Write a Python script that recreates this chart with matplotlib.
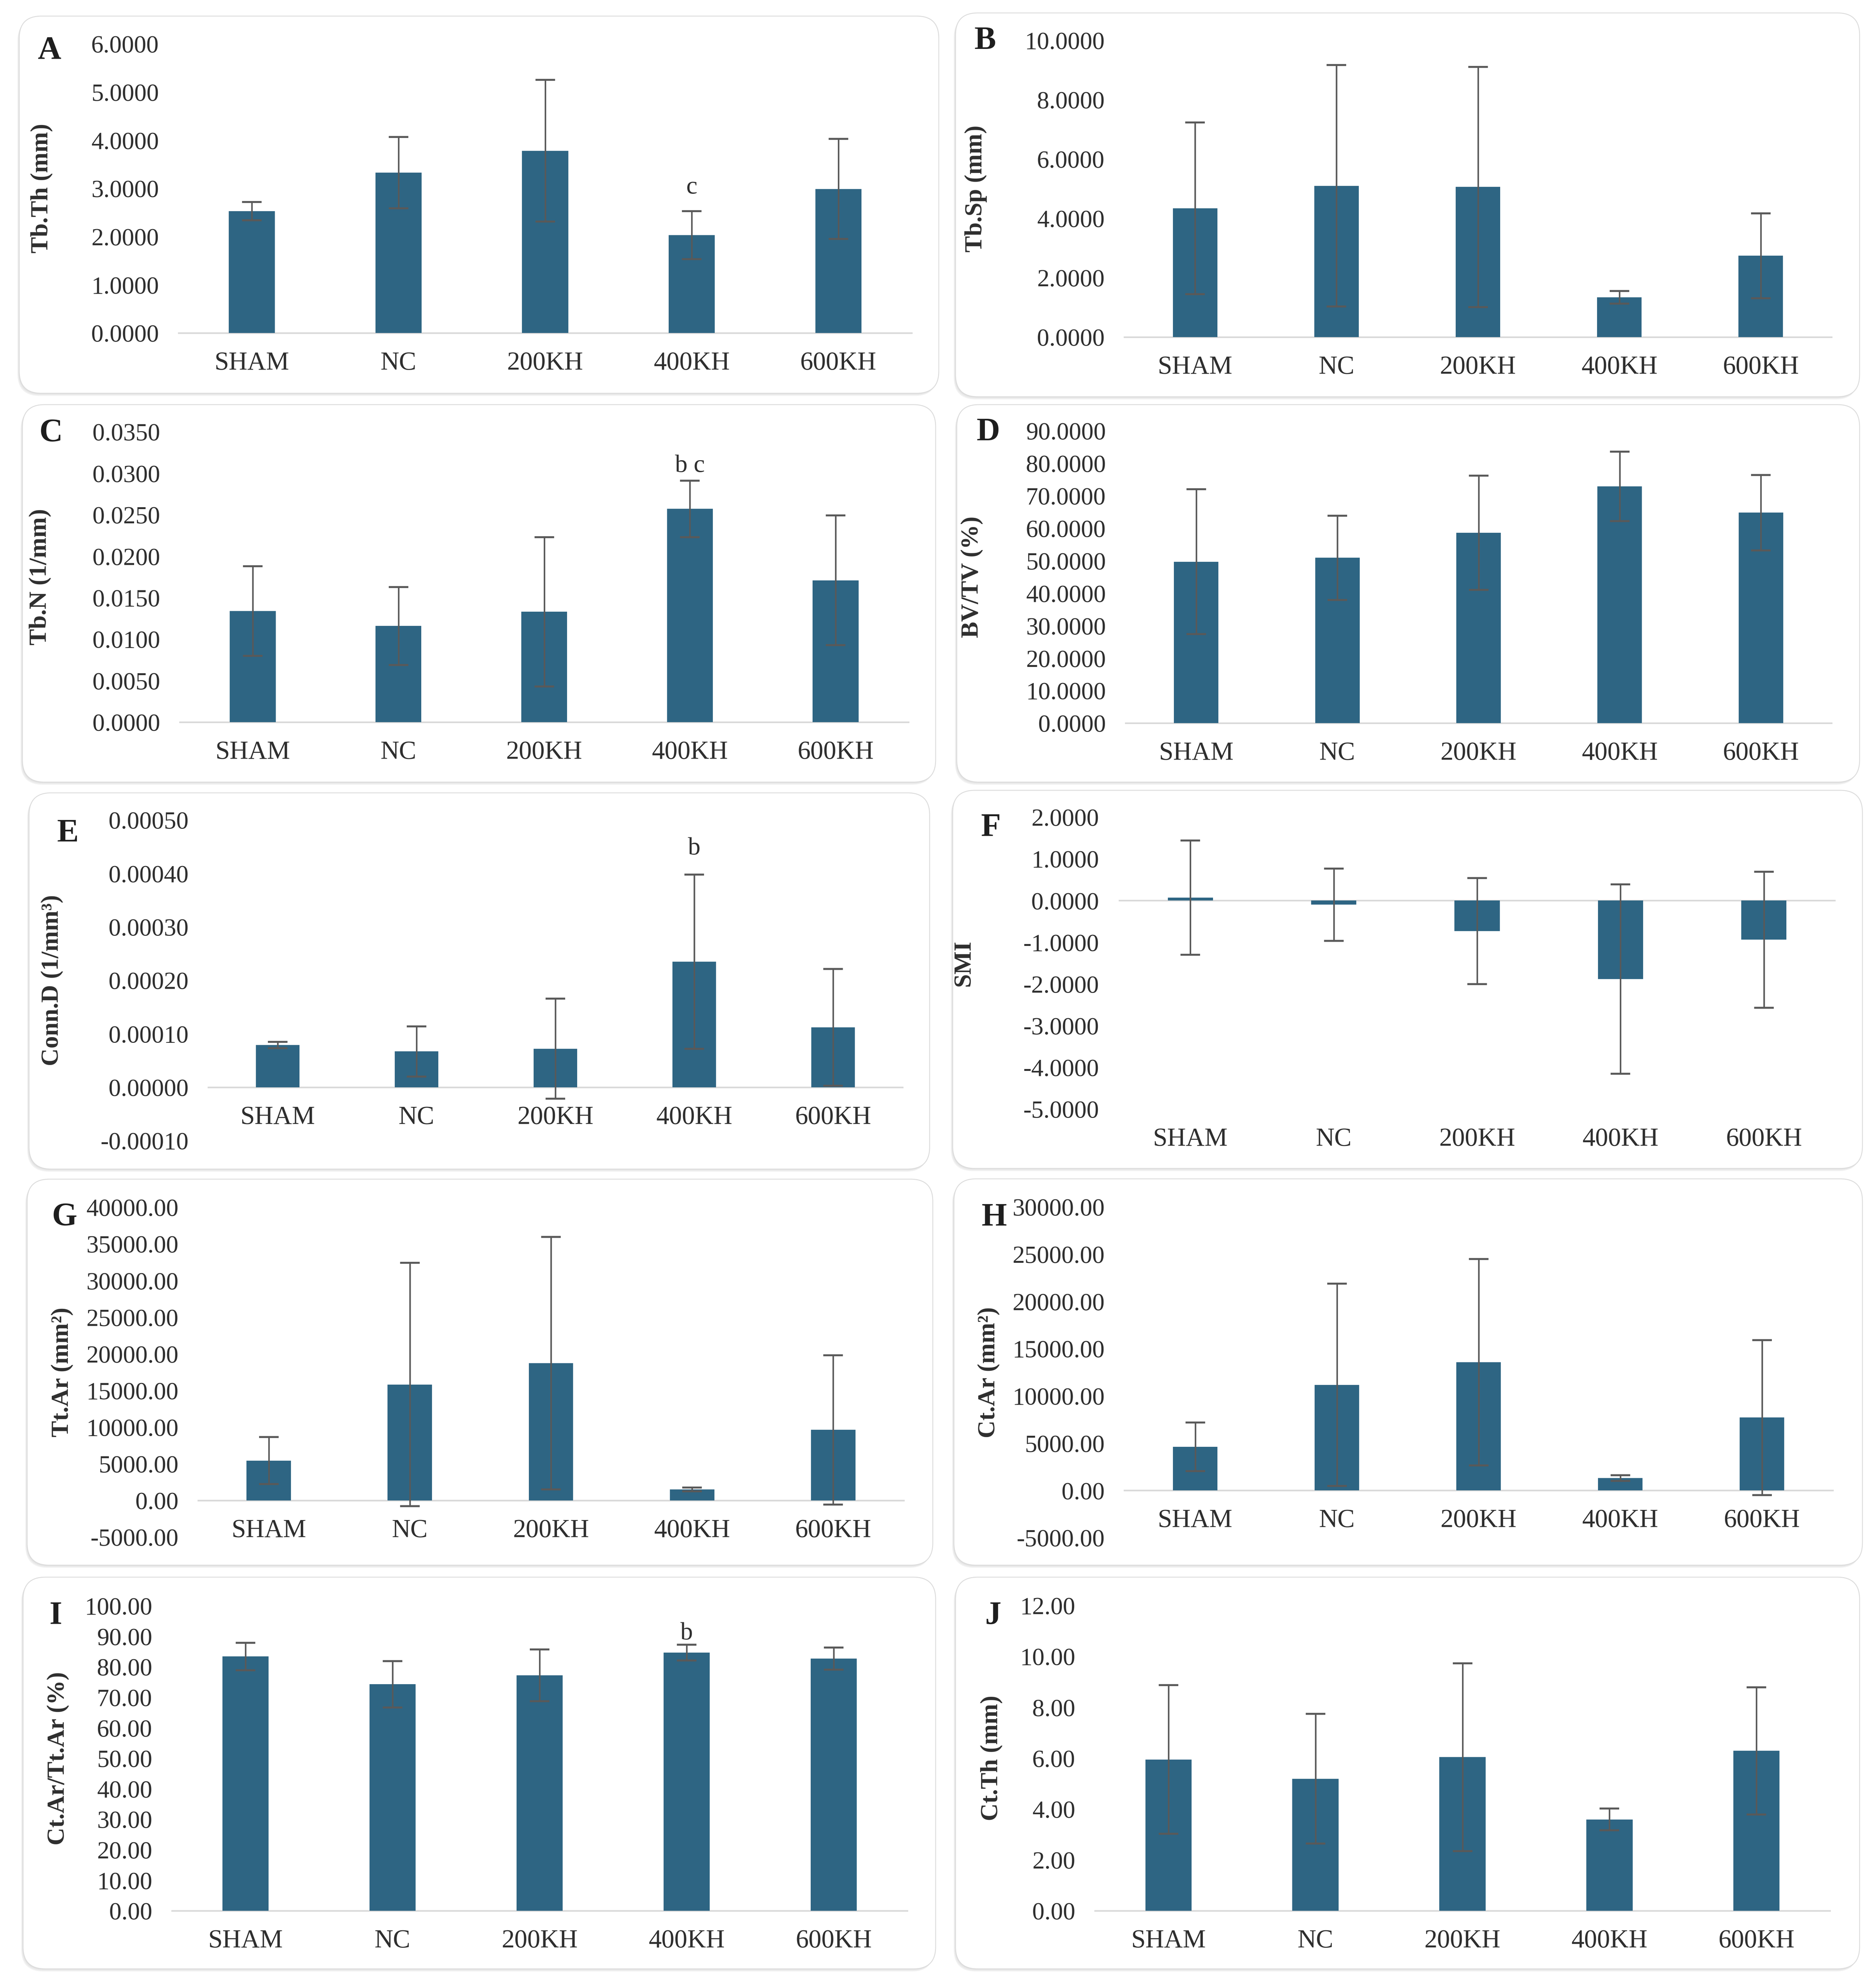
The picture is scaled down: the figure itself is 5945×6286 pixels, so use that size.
import matplotlib
matplotlib.use('Agg')
import matplotlib.pyplot as plt
from matplotlib.patches import FancyBboxPatch
from matplotlib.ticker import FormatStrFormatter, MultipleLocator

plt.rcParams['font.family'] = ['Liberation Serif', 'DejaVu Serif']

# 数据
groups = ['SHAM', 'NC', '200KH', '400KH', '600KH']

tb_th_mean = [2.53, 3.33, 3.78, 2.03, 2.99]
tb_th_sd = [0.19, 0.74, 1.47, 0.50, 1.04]

tb_sp_mean = [4.34, 5.10, 5.06, 1.34, 2.74]
tb_sp_sd = [2.89, 4.07, 4.05, 0.21, 1.43]

tb_n_mean = [0.0134, 0.0116, 0.0133, 0.0257, 0.0171]
tb_n_sd = [0.0054, 0.0047, 0.0090, 0.0034, 0.0078]

bv_tv_mean = [49.7, 50.9, 58.6, 72.9, 64.8]
bv_tv_sd = [22.3, 13.0, 17.6, 10.7, 11.6]

conn_d_mean = [0.000079, 0.000067, 0.000072, 0.000235, 0.000112]
conn_d_sd = [0.000006, 0.000047, 0.0000935, 0.000163, 0.000109]

smi_mean = [0.07, -0.10, -0.73, -1.88, -0.94]
smi_sd = [1.37, 0.87, 1.27, 2.27, 1.63]

tt_ar_mean = [5440, 15800, 18730, 1500, 9620]
tt_ar_sd = [3200, 16600, 17240, 250, 10170]

ct_ar_mean = [4630, 11170, 13580, 1300, 7710]
ct_ar_sd = [2570, 10700, 10920, 300, 8210]

ct_ratio_mean = [83.4, 74.3, 77.2, 84.7, 82.7]
ct_ratio_sd = [4.5, 7.6, 8.5, 2.6, 3.6]

ct_th_mean = [5.95, 5.19, 6.04, 3.59, 6.29]
ct_th_sd = [2.92, 2.55, 3.69, 0.43, 2.50]

sig_a = {'400KH': 'c'}
sig_c = {'400KH': 'b c'}
sig_e = {'400KH': 'b'}
sig_i = {'400KH': 'b'}

# 画布（像素坐标）
W, H = 5945, 6286
fig = plt.figure(figsize=(W / 100, H / 100), dpi=100)

bg = fig.add_axes([0, 0, 1, 1], zorder=0)
bg.set_xlim(0, W)
bg.set_ylim(H, 0)
bg.axis('off')

bar_color = '#2e6583'
err_color = '#595959'
txt_color = '#2e2e2e'

# 每个面板: 字母, 数据, 轴标签, 轴范围, 刻度步长, 格式, 标注, 面板框, 坐标轴框, 字母位置, 轴标签x, 标注偏移
panels = [
    dict(tag='A', mean=tb_th_mean, sd=tb_th_sd, ylabel='Tb.Th (mm)', ylim=(0, 6), step=1, fmt='%.4f',
         sig=sig_a, box=(61, 51, 2975, 1246), ax=(566, 2889, 139, 1055), letter=(157, 161), lx=168, off=40),
    dict(tag='B', mean=tb_sp_mean, sd=tb_sp_sd, ylabel='Tb.Sp (mm)', ylim=(0, 10), step=2, fmt='%.4f',
         sig={}, box=(3028, 41, 5893, 1257), ax=(3563, 5804, 128, 1068), letter=(3122, 130), lx=3128, off=0),
    dict(tag='C', mean=tb_n_mean, sd=tb_n_sd, ylabel='Tb.N (1/mm)', ylim=(0, 0.035), step=0.005, fmt='%.4f',
         sig=sig_c, box=(71, 1282, 2965, 2478), ax=(570, 2879, 1368, 2288), letter=(162, 1373), lx=163, off=20),
    dict(tag='D', mean=bv_tv_mean, sd=bv_tv_sd, ylabel='BV/TV (%)', ylim=(0, 90), step=10, fmt='%.4f',
         sig={}, box=(3032, 1282, 5893, 2478), ax=(3567, 5804, 1365, 2291), letter=(3131, 1370), lx=3116, off=0),
    dict(tag='E', mean=conn_d_mean, sd=conn_d_sd, ylabel='Conn.D (1/mm³)', ylim=(-0.0001, 0.0005), step=0.0001,
         fmt='%.5f', sig=sig_e, box=(92, 2512, 2946, 3704), ax=(660, 2860, 2598, 3614), letter=(215, 2641),
         lx=201, off=46),
    dict(tag='F', mean=smi_mean, sd=smi_sd, ylabel='SMI', ylim=(-5, 2), step=1, fmt='%.4f',
         sig={}, box=(3019, 2504, 5902, 3702), ax=(3545, 5817, 2589, 3514), letter=(3140, 2623), lx=3090, off=0),
    dict(tag='G', mean=tt_ar_mean, sd=tt_ar_sd, ylabel='Tt.Ar (mm²)', ylim=(-5000, 40000), step=5000, fmt='%.2f',
         sig={}, box=(86, 3736, 2956, 4959), ax=(628, 2864, 3825, 4870), letter=(205, 3857), lx=233, off=0),
    dict(tag='H', mean=ct_ar_mean, sd=ct_ar_sd, ylabel='Ct.Ar (mm²)', ylim=(-5000, 30000), step=5000, fmt='%.2f',
         sig={}, box=(3023, 3735, 5902, 4959), ax=(3563, 5808, 3824, 4872), letter=(3150, 3858), lx=3169, off=0),
    dict(tag='I', mean=ct_ratio_mean, sd=ct_ratio_sd, ylabel='Ct.Ar/Tt.Ar (%)', ylim=(0, 100), step=10, fmt='%.2f',
         sig=sig_i, box=(73, 4997, 2965, 6238), ax=(545, 2875, 5088, 6054), letter=(177, 5120), lx=220, off=12),
    dict(tag='J', mean=ct_th_mean, sd=ct_th_sd, ylabel='Ct.Th (mm)', ylim=(0, 12), step=2, fmt='%.2f',
         sig={}, box=(3028, 4997, 5893, 6238), ax=(3470, 5799, 5087, 6054), letter=(3147, 5120), lx=3178, off=0),
]

for p in panels:
    # 面板背景（圆角 + 阴影）
    x0, y0, x1, y1 = p['box']
    for i, a in enumerate([0.10, 0.10, 0.12]):
        d = 4 + 5 * i
        bg.add_patch(FancyBboxPatch((x0 - d * 0.4, y0 + d * 0.6), x1 - x0, y1 - y0,
                                    boxstyle='round,pad=0,rounding_size=70', fc='#9a9a9a',
                                    ec='none', alpha=a))
    bg.add_patch(FancyBboxPatch((x0, y0), x1 - x0, y1 - y0, boxstyle='round,pad=0,rounding_size=70',
                                fc='white', ec='#dcdcdc', lw=2))

    ax_x0, ax_x1, ax_yt, ax_yb = p['ax']
    ax = fig.add_axes([ax_x0 / W, 1 - ax_yb / H, (ax_x1 - ax_x0) / W, (ax_yb - ax_yt) / H], zorder=1)
    ax.patch.set_alpha(0)

    x = range(len(groups))
    ax.bar(x, p['mean'], width=0.315, color=bar_color, zorder=2)
    ax.errorbar(x, p['mean'], yerr=p['sd'], fmt='none', ecolor=err_color, elinewidth=3.5,
                capsize=22, capthick=4.5, zorder=3)

    ax.set_xlim(-0.5, len(groups) - 0.5)
    ax.set_ylim(*p['ylim'])
    ax.yaxis.set_major_locator(MultipleLocator(p['step']))
    ax.yaxis.set_major_formatter(FormatStrFormatter(p['fmt']))
    ax.set_xticks(list(x))
    ax.set_xticklabels(groups)

    for s in ['top', 'right', 'left']:
        ax.spines[s].set_visible(False)
    if p['tag'] == 'F':
        ax.spines['bottom'].set_visible(False)
        ax.axhline(0, color='#d9d9d9', lw=3.6, zorder=1)
    else:
        ax.spines['bottom'].set_position(('data', 0))
        ax.spines['bottom'].set_color('#d9d9d9')
        ax.spines['bottom'].set_linewidth(3.6)
        ax.spines['bottom'].set_zorder(1)

    ax.tick_params(axis='y', length=0, pad=45, labelsize=56, labelcolor=txt_color)
    ax.tick_params(axis='x', length=0, pad=42, labelsize=59, labelcolor=txt_color)

    ax.set_ylabel(p['ylabel'], fontsize=56, fontweight='bold', color=txt_color)
    ax.yaxis.set_label_coords((p['lx'] - ax_x0) / (ax_x1 - ax_x0), 0.5)

    # 显著性标注
    for g, lab in p['sig'].items():
        k = groups.index(g)
        top = p['mean'][k] + p['sd'][k]
        ax.annotate(lab, (k, top), xytext=(0, p['off']), textcoords='offset points',
                    ha='center', va='baseline', fontsize=57, color=txt_color)

    # 面板字母
    bg.text(p['letter'][0], p['letter'][1], p['tag'], fontsize=74, fontweight='bold',
            ha='center', va='center', color='#1e1e1e')

fig.savefig('out.png', dpi=100, facecolor='white')
